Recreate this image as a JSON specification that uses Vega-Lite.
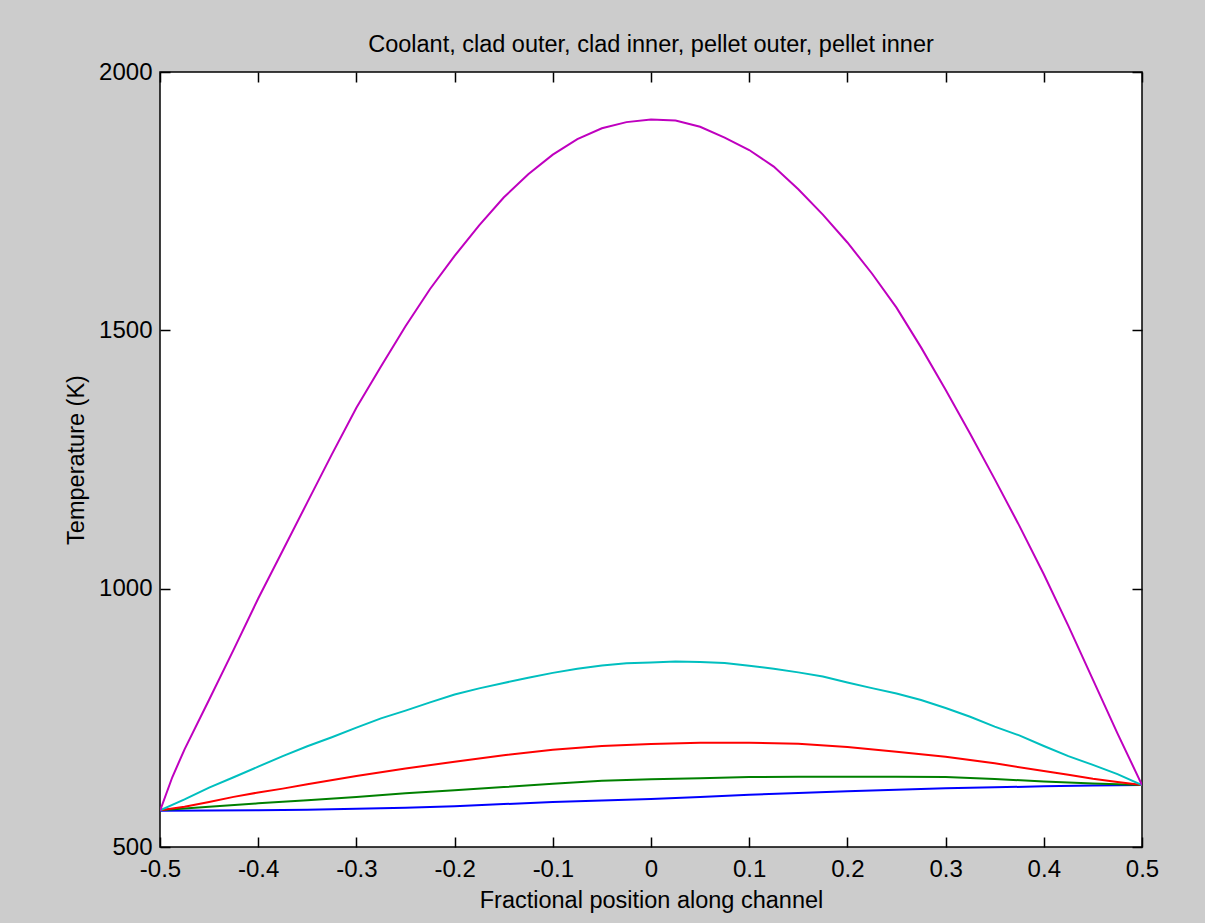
{
  "$schema": "https://vega.github.io/schema/vega-lite/v6.json",
  "autosize": {"type": "none"},
  "padding": {"left": 160, "top": 72, "right": 63, "bottom": 76},
  "width": 982,
  "height": 775,
  "background": "#cccccc",
  "title": {"text": "Coolant, clad outer, clad inner, pellet outer, pellet inner", "font": "Liberation Sans", "fontSize": 23.5, "fontWeight": "normal", "color": "black", "anchor": "middle", "baseline": "alphabetic", "offset": 15, "dy": 30},
  "config": {
    "view": {"fill": "white", "stroke": "black", "strokeWidth": 1.5},
    "axis": {"domain": false, "grid": false, "ticks": true, "tickColor": "black", "tickSize": -10, "tickWidth": 1.5, "labelFont": "Liberation Sans", "labelFontSize": 24, "labelColor": "black", "titleFont": "Liberation Sans", "titleFontSize": 23.5, "titleFontWeight": "normal", "titleColor": "black", "labelFlush": false, "labelOverlap": false}
  },
  "data": {"values": [
    {"s": "Coolant", "x": -0.5, "t": 570}, {"s": "Coolant", "x": -0.45, "t": 570.5}, {"s": "Coolant", "x": -0.4, "t": 571}, {"s": "Coolant", "x": -0.35, "t": 572}, {"s": "Coolant", "x": -0.3, "t": 574}, {"s": "Coolant", "x": -0.25, "t": 576}, {"s": "Coolant", "x": -0.2, "t": 579}, {"s": "Coolant", "x": -0.15, "t": 583}, {"s": "Coolant", "x": -0.1, "t": 587}, {"s": "Coolant", "x": -0.05, "t": 590}, {"s": "Coolant", "x": 0, "t": 593}, {"s": "Coolant", "x": 0.05, "t": 597}, {"s": "Coolant", "x": 0.1, "t": 601}, {"s": "Coolant", "x": 0.15, "t": 604.5}, {"s": "Coolant", "x": 0.2, "t": 608}, {"s": "Coolant", "x": 0.25, "t": 611}, {"s": "Coolant", "x": 0.3, "t": 613.5}, {"s": "Coolant", "x": 0.35, "t": 615.5}, {"s": "Coolant", "x": 0.4, "t": 617.5}, {"s": "Coolant", "x": 0.45, "t": 619}, {"s": "Coolant", "x": 0.5, "t": 620},
    {"s": "Clad outer", "x": -0.5, "t": 571}, {"s": "Clad outer", "x": -0.45, "t": 578}, {"s": "Clad outer", "x": -0.4, "t": 584.5}, {"s": "Clad outer", "x": -0.35, "t": 590.5}, {"s": "Clad outer", "x": -0.3, "t": 597}, {"s": "Clad outer", "x": -0.25, "t": 604}, {"s": "Clad outer", "x": -0.2, "t": 610}, {"s": "Clad outer", "x": -0.15, "t": 616}, {"s": "Clad outer", "x": -0.1, "t": 622.5}, {"s": "Clad outer", "x": -0.05, "t": 628}, {"s": "Clad outer", "x": 0, "t": 631}, {"s": "Clad outer", "x": 0.05, "t": 633}, {"s": "Clad outer", "x": 0.1, "t": 635.5}, {"s": "Clad outer", "x": 0.15, "t": 636}, {"s": "Clad outer", "x": 0.2, "t": 636}, {"s": "Clad outer", "x": 0.25, "t": 636}, {"s": "Clad outer", "x": 0.3, "t": 635.5}, {"s": "Clad outer", "x": 0.35, "t": 631.5}, {"s": "Clad outer", "x": 0.4, "t": 627}, {"s": "Clad outer", "x": 0.45, "t": 623}, {"s": "Clad outer", "x": 0.5, "t": 620},
    {"s": "Clad inner", "x": -0.5, "t": 571}, {"s": "Clad inner", "x": -0.475, "t": 578}, {"s": "Clad inner", "x": -0.45, "t": 587}, {"s": "Clad inner", "x": -0.425, "t": 597}, {"s": "Clad inner", "x": -0.4, "t": 605.5}, {"s": "Clad inner", "x": -0.375, "t": 613}, {"s": "Clad inner", "x": -0.35, "t": 621.5}, {"s": "Clad inner", "x": -0.3, "t": 637.5}, {"s": "Clad inner", "x": -0.25, "t": 652}, {"s": "Clad inner", "x": -0.2, "t": 665}, {"s": "Clad inner", "x": -0.15, "t": 677.5}, {"s": "Clad inner", "x": -0.1, "t": 688}, {"s": "Clad inner", "x": -0.05, "t": 695.5}, {"s": "Clad inner", "x": 0, "t": 699.5}, {"s": "Clad inner", "x": 0.05, "t": 702}, {"s": "Clad inner", "x": 0.1, "t": 702}, {"s": "Clad inner", "x": 0.15, "t": 700}, {"s": "Clad inner", "x": 0.2, "t": 693.5}, {"s": "Clad inner", "x": 0.25, "t": 684.5}, {"s": "Clad inner", "x": 0.3, "t": 674.5}, {"s": "Clad inner", "x": 0.35, "t": 662}, {"s": "Clad inner", "x": 0.4, "t": 647}, {"s": "Clad inner", "x": 0.425, "t": 640}, {"s": "Clad inner", "x": 0.45, "t": 632}, {"s": "Clad inner", "x": 0.475, "t": 626}, {"s": "Clad inner", "x": 0.5, "t": 620},
    {"s": "Pellet outer", "x": -0.5, "t": 571}, {"s": "Pellet outer", "x": -0.475, "t": 592}, {"s": "Pellet outer", "x": -0.45, "t": 615}, {"s": "Pellet outer", "x": -0.425, "t": 635}, {"s": "Pellet outer", "x": -0.4, "t": 655.5}, {"s": "Pellet outer", "x": -0.375, "t": 676}, {"s": "Pellet outer", "x": -0.35, "t": 695}, {"s": "Pellet outer", "x": -0.325, "t": 712.5}, {"s": "Pellet outer", "x": -0.3, "t": 731}, {"s": "Pellet outer", "x": -0.275, "t": 749}, {"s": "Pellet outer", "x": -0.25, "t": 764}, {"s": "Pellet outer", "x": -0.225, "t": 780}, {"s": "Pellet outer", "x": -0.2, "t": 795}, {"s": "Pellet outer", "x": -0.175, "t": 807}, {"s": "Pellet outer", "x": -0.15, "t": 817.5}, {"s": "Pellet outer", "x": -0.125, "t": 827.5}, {"s": "Pellet outer", "x": -0.1, "t": 837}, {"s": "Pellet outer", "x": -0.075, "t": 845}, {"s": "Pellet outer", "x": -0.05, "t": 851.5}, {"s": "Pellet outer", "x": -0.025, "t": 855.5}, {"s": "Pellet outer", "x": 0, "t": 857}, {"s": "Pellet outer", "x": 0.025, "t": 859}, {"s": "Pellet outer", "x": 0.05, "t": 858}, {"s": "Pellet outer", "x": 0.075, "t": 856}, {"s": "Pellet outer", "x": 0.1, "t": 851}, {"s": "Pellet outer", "x": 0.125, "t": 845}, {"s": "Pellet outer", "x": 0.15, "t": 838}, {"s": "Pellet outer", "x": 0.175, "t": 830}, {"s": "Pellet outer", "x": 0.2, "t": 818.5}, {"s": "Pellet outer", "x": 0.225, "t": 807.5}, {"s": "Pellet outer", "x": 0.25, "t": 797}, {"s": "Pellet outer", "x": 0.275, "t": 784.5}, {"s": "Pellet outer", "x": 0.3, "t": 769}, {"s": "Pellet outer", "x": 0.325, "t": 752}, {"s": "Pellet outer", "x": 0.35, "t": 733}, {"s": "Pellet outer", "x": 0.375, "t": 716}, {"s": "Pellet outer", "x": 0.4, "t": 695.5}, {"s": "Pellet outer", "x": 0.425, "t": 676}, {"s": "Pellet outer", "x": 0.45, "t": 659}, {"s": "Pellet outer", "x": 0.475, "t": 641}, {"s": "Pellet outer", "x": 0.5, "t": 620},
    {"s": "Pellet inner", "x": -0.5, "t": 570}, {"s": "Pellet inner", "x": -0.4875, "t": 635}, {"s": "Pellet inner", "x": -0.475, "t": 689}, {"s": "Pellet inner", "x": -0.45, "t": 785}, {"s": "Pellet inner", "x": -0.425, "t": 882}, {"s": "Pellet inner", "x": -0.4, "t": 981}, {"s": "Pellet inner", "x": -0.375, "t": 1074}, {"s": "Pellet inner", "x": -0.35, "t": 1167}, {"s": "Pellet inner", "x": -0.325, "t": 1260}, {"s": "Pellet inner", "x": -0.3, "t": 1350}, {"s": "Pellet inner", "x": -0.275, "t": 1430}, {"s": "Pellet inner", "x": -0.25, "t": 1508}, {"s": "Pellet inner", "x": -0.225, "t": 1580}, {"s": "Pellet inner", "x": -0.2, "t": 1644}, {"s": "Pellet inner", "x": -0.175, "t": 1703}, {"s": "Pellet inner", "x": -0.15, "t": 1757}, {"s": "Pellet inner", "x": -0.125, "t": 1802}, {"s": "Pellet inner", "x": -0.1, "t": 1840}, {"s": "Pellet inner", "x": -0.075, "t": 1870}, {"s": "Pellet inner", "x": -0.05, "t": 1891}, {"s": "Pellet inner", "x": -0.025, "t": 1903}, {"s": "Pellet inner", "x": 0, "t": 1908}, {"s": "Pellet inner", "x": 0.025, "t": 1906}, {"s": "Pellet inner", "x": 0.05, "t": 1894}, {"s": "Pellet inner", "x": 0.075, "t": 1873}, {"s": "Pellet inner", "x": 0.1, "t": 1849}, {"s": "Pellet inner", "x": 0.125, "t": 1817}, {"s": "Pellet inner", "x": 0.15, "t": 1773}, {"s": "Pellet inner", "x": 0.175, "t": 1724}, {"s": "Pellet inner", "x": 0.2, "t": 1670}, {"s": "Pellet inner", "x": 0.225, "t": 1610}, {"s": "Pellet inner", "x": 0.25, "t": 1544}, {"s": "Pellet inner", "x": 0.275, "t": 1467}, {"s": "Pellet inner", "x": 0.3, "t": 1385}, {"s": "Pellet inner", "x": 0.325, "t": 1300}, {"s": "Pellet inner", "x": 0.35, "t": 1212}, {"s": "Pellet inner", "x": 0.375, "t": 1122}, {"s": "Pellet inner", "x": 0.4, "t": 1028}, {"s": "Pellet inner", "x": 0.425, "t": 928}, {"s": "Pellet inner", "x": 0.45, "t": 824}, {"s": "Pellet inner", "x": 0.475, "t": 720}, {"s": "Pellet inner", "x": 0.5, "t": 620}
  ]},
  "layer": [
    {
      "mark": {"type": "line", "strokeWidth": 2, "clip": true},
      "encoding": {
        "x": {"field": "x", "type": "quantitative", "scale": {"domain": [-0.5, 0.5], "nice": false, "zero": false},
              "axis": {"orient": "bottom", "values": [-0.5, -0.4, -0.3, -0.2, -0.1, 0, 0.1, 0.2, 0.3, 0.4, 0.5], "labelExpr": "'' + datum.value", "title": "Fractional position along channel", "labelPadding": 20, "titlePadding": 7}},
        "y": {"field": "t", "type": "quantitative", "scale": {"domain": [500, 2000], "nice": false, "zero": false},
              "axis": {"orient": "left", "values": [500, 1000, 1500, 2000], "labelExpr": "'' + datum.value", "title": "Temperature (K)", "labelPadding": 18, "titlePadding": 10}},
        "color": {"field": "s", "type": "nominal", "legend": null,
                  "scale": {"domain": ["Coolant", "Clad outer", "Clad inner", "Pellet outer", "Pellet inner"], "range": ["#0000ff", "#008000", "#ff0000", "#00bfbf", "#bf00bf"]}}
      }
    },
    {
      "mark": {"type": "line", "strokeOpacity": 0},
      "encoding": {
        "x": {"field": "x", "type": "quantitative", "axis": {"orient": "top", "values": [-0.5, -0.4, -0.3, -0.2, -0.1, 0, 0.1, 0.2, 0.3, 0.4, 0.5], "labels": false, "title": null}},
        "y": {"field": "t", "type": "quantitative", "axis": {"orient": "right", "values": [500, 1000, 1500, 2000], "labels": false, "title": null}},
        "detail": {"field": "s"}
      }
    }
  ],
  "resolve": {"axis": {"x": "independent", "y": "independent"}}
}
